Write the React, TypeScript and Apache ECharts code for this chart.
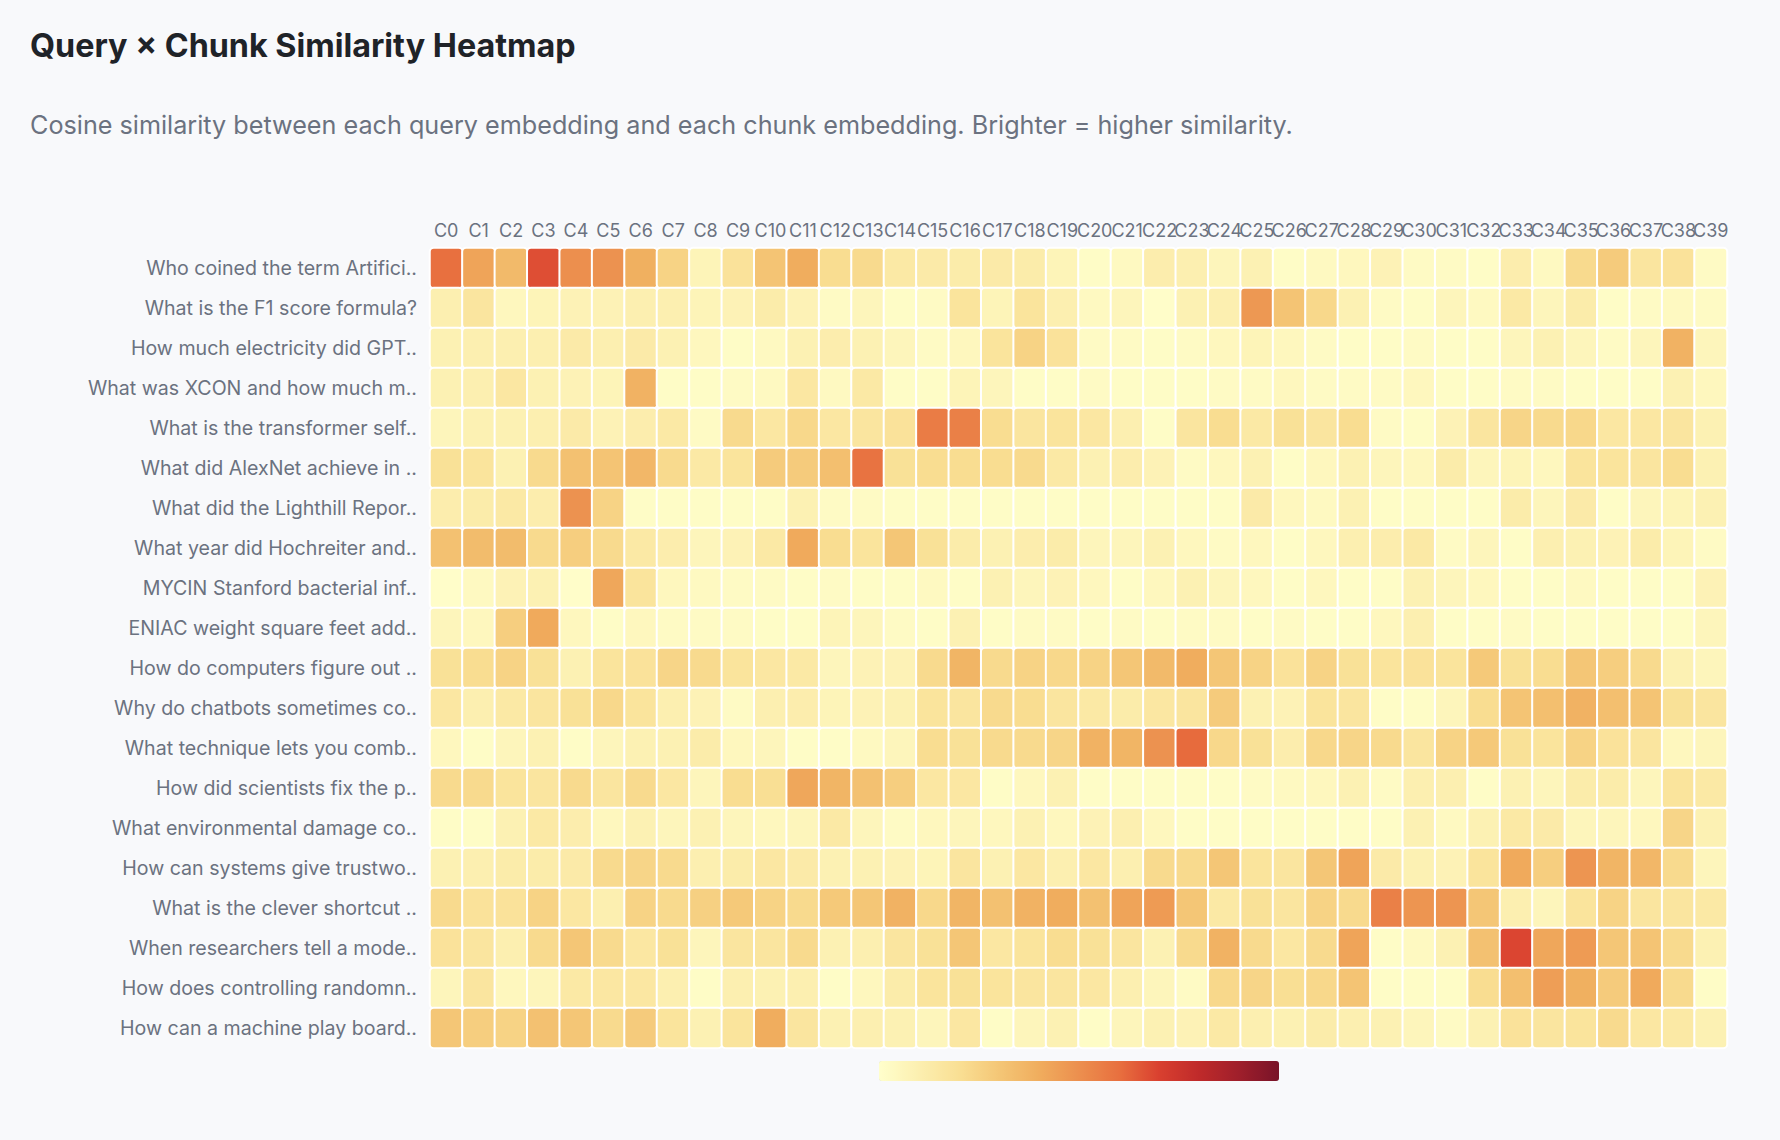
import React, { useEffect, useRef } from "react";
import * as echarts from "echarts";

const chunks = [
  "C0", "C1", "C2", "C3", "C4", "C5", "C6", "C7", "C8", "C9",
  "C10", "C11", "C12", "C13", "C14", "C15", "C16", "C17", "C18", "C19",
  "C20", "C21", "C22", "C23", "C24", "C25", "C26", "C27", "C28", "C29",
  "C30", "C31", "C32", "C33", "C34", "C35", "C36", "C37", "C38", "C39",
];

const queries = [
  "Who coined the term Artifici..",
  "What is the F1 score formula?",
  "How much electricity did GPT..",
  "What was XCON and how much m..",
  "What is the transformer self..",
  "What did AlexNet achieve in ..",
  "What did the Lighthill Repor..",
  "What year did Hochreiter and..",
  "MYCIN Stanford bacterial inf..",
  "ENIAC weight square feet add..",
  "How do computers figure out ..",
  "Why do chatbots sometimes co..",
  "What technique lets you comb..",
  "How did scientists fix the p..",
  "What environmental damage co..",
  "How can systems give trustwo..",
  "What is the clever shortcut ..",
  "When researchers tell a mode..",
  "How does controlling randomn..",
  "How can a machine play board..",
];

const q00 = [0.60,0.43,0.35,0.67,0.50,0.49,0.39,0.25,0.07,0.18,0.31,0.40,0.21,0.22,0.14,0.13,0.12,0.13,0.12,0.07,0.02,0.04,0.11,0.10,0.06,0.09,0.02,0.04,0.05,0.08,0.03,0.03,0.02,0.11,0.04,0.22,0.28,0.16,0.18,0.03];
const q01 = [0.10,0.16,0.05,0.07,0.08,0.08,0.10,0.10,0.07,0.08,0.12,0.08,0.03,0.06,0.02,0.03,0.17,0.07,0.17,0.10,0.04,0.06,0.01,0.09,0.10,0.47,0.31,0.23,0.09,0.03,0.02,0.06,0.04,0.14,0.06,0.12,0.02,0.03,0.04,0.03];
const q02 = [0.09,0.10,0.10,0.10,0.13,0.10,0.13,0.09,0.05,0.02,0.04,0.09,0.11,0.09,0.06,0.03,0.05,0.17,0.25,0.18,0.03,0.03,0.02,0.03,0.05,0.07,0.05,0.03,0.02,0.02,0.03,0.02,0.02,0.06,0.09,0.06,0.03,0.06,0.38,0.06];
const q03 = [0.09,0.10,0.15,0.09,0.08,0.07,0.38,0.02,0.02,0.03,0.04,0.15,0.04,0.14,0.02,0.02,0.07,0.06,0.02,0.02,0.03,0.02,0.02,0.02,0.03,0.03,0.05,0.03,0.03,0.03,0.05,0.02,0.02,0.03,0.03,0.02,0.02,0.02,0.09,0.05];
const q04 = [0.06,0.09,0.09,0.10,0.13,0.08,0.11,0.14,0.03,0.22,0.15,0.23,0.15,0.16,0.18,0.56,0.55,0.21,0.16,0.17,0.15,0.10,0.02,0.16,0.21,0.14,0.19,0.16,0.21,0.03,0.02,0.08,0.16,0.24,0.22,0.23,0.15,0.15,0.16,0.09];
const q05 = [0.19,0.17,0.09,0.22,0.32,0.31,0.36,0.22,0.14,0.17,0.28,0.28,0.33,0.59,0.19,0.21,0.21,0.21,0.22,0.14,0.09,0.11,0.08,0.03,0.05,0.09,0.02,0.05,0.09,0.06,0.05,0.12,0.06,0.07,0.05,0.17,0.17,0.16,0.21,0.09];
const q06 = [0.11,0.12,0.14,0.11,0.49,0.25,0.02,0.02,0.02,0.02,0.02,0.09,0.03,0.03,0.02,0.02,0.02,0.02,0.02,0.02,0.02,0.02,0.02,0.02,0.02,0.13,0.05,0.04,0.09,0.02,0.02,0.02,0.02,0.12,0.06,0.13,0.02,0.06,0.07,0.09];
const q07 = [0.32,0.34,0.34,0.22,0.27,0.22,0.14,0.11,0.06,0.08,0.14,0.41,0.21,0.17,0.30,0.19,0.12,0.09,0.11,0.12,0.06,0.06,0.09,0.05,0.03,0.05,0.02,0.05,0.10,0.11,0.14,0.03,0.06,0.02,0.10,0.09,0.08,0.12,0.07,0.03];
const q08 = [0.01,0.04,0.08,0.09,0.01,0.42,0.17,0.05,0.04,0.03,0.03,0.02,0.03,0.02,0.02,0.04,0.02,0.09,0.06,0.08,0.05,0.02,0.05,0.09,0.06,0.05,0.02,0.05,0.02,0.02,0.09,0.06,0.05,0.02,0.02,0.04,0.02,0.02,0.02,0.08];
const q09 = [0.06,0.05,0.27,0.41,0.05,0.02,0.05,0.03,0.03,0.03,0.02,0.02,0.07,0.06,0.03,0.02,0.09,0.02,0.03,0.03,0.02,0.03,0.02,0.03,0.03,0.02,0.03,0.02,0.02,0.05,0.10,0.02,0.02,0.03,0.02,0.02,0.02,0.02,0.02,0.06];
const q10 = [0.19,0.21,0.25,0.19,0.09,0.17,0.18,0.24,0.22,0.17,0.15,0.14,0.06,0.08,0.08,0.22,0.37,0.22,0.25,0.23,0.25,0.30,0.35,0.40,0.30,0.25,0.18,0.25,0.19,0.17,0.18,0.17,0.29,0.19,0.21,0.30,0.27,0.22,0.09,0.06];
const q11 = [0.15,0.10,0.14,0.16,0.19,0.23,0.17,0.10,0.08,0.03,0.10,0.11,0.07,0.08,0.09,0.17,0.16,0.22,0.21,0.16,0.14,0.12,0.15,0.16,0.28,0.09,0.08,0.17,0.16,0.02,0.02,0.06,0.21,0.31,0.33,0.38,0.33,0.31,0.19,0.16];
const q12 = [0.05,0.02,0.06,0.09,0.02,0.06,0.09,0.09,0.12,0.05,0.06,0.02,0.02,0.04,0.06,0.21,0.19,0.22,0.22,0.24,0.38,0.37,0.49,0.61,0.23,0.19,0.11,0.23,0.24,0.22,0.16,0.25,0.29,0.19,0.17,0.25,0.18,0.16,0.05,0.06];
const q13 = [0.22,0.22,0.17,0.16,0.22,0.16,0.22,0.15,0.06,0.21,0.20,0.42,0.37,0.32,0.27,0.15,0.15,0.02,0.05,0.09,0.02,0.02,0.02,0.02,0.02,0.03,0.04,0.05,0.09,0.03,0.10,0.10,0.02,0.09,0.06,0.12,0.12,0.06,0.17,0.14];
const q14 = [0.02,0.02,0.09,0.14,0.11,0.05,0.09,0.06,0.09,0.06,0.05,0.06,0.14,0.06,0.03,0.05,0.06,0.05,0.09,0.05,0.08,0.10,0.05,0.02,0.02,0.02,0.02,0.02,0.02,0.02,0.09,0.04,0.09,0.14,0.13,0.06,0.06,0.05,0.24,0.09];
const q15 = [0.09,0.10,0.12,0.12,0.13,0.22,0.24,0.22,0.10,0.12,0.15,0.13,0.09,0.09,0.08,0.07,0.16,0.09,0.15,0.10,0.15,0.10,0.22,0.22,0.30,0.17,0.16,0.30,0.43,0.13,0.09,0.08,0.17,0.41,0.27,0.48,0.37,0.36,0.22,0.06];
const q16 = [0.22,0.18,0.18,0.25,0.15,0.10,0.25,0.22,0.26,0.29,0.25,0.22,0.29,0.30,0.38,0.23,0.37,0.32,0.38,0.40,0.32,0.43,0.46,0.30,0.14,0.19,0.16,0.25,0.22,0.55,0.48,0.48,0.30,0.10,0.06,0.17,0.25,0.16,0.16,0.14];
const q17 = [0.18,0.16,0.10,0.22,0.30,0.22,0.15,0.19,0.06,0.16,0.16,0.22,0.09,0.10,0.16,0.19,0.30,0.15,0.17,0.21,0.19,0.16,0.09,0.22,0.38,0.22,0.15,0.22,0.43,0.02,0.04,0.09,0.32,0.69,0.42,0.46,0.30,0.31,0.22,0.09];
const q18 = [0.06,0.16,0.05,0.06,0.14,0.15,0.15,0.10,0.02,0.10,0.09,0.10,0.02,0.05,0.12,0.17,0.19,0.17,0.16,0.16,0.15,0.10,0.06,0.03,0.23,0.24,0.20,0.23,0.31,0.02,0.02,0.02,0.21,0.33,0.45,0.39,0.28,0.41,0.22,0.02];
const q19 = [0.30,0.27,0.25,0.32,0.30,0.22,0.28,0.17,0.09,0.17,0.40,0.16,0.09,0.10,0.09,0.06,0.15,0.02,0.06,0.09,0.02,0.06,0.09,0.08,0.14,0.10,0.09,0.12,0.10,0.09,0.06,0.03,0.09,0.18,0.16,0.17,0.22,0.15,0.14,0.09];

const similarity = [q00, q01, q02, q03, q04, q05, q06, q07, q08, q09, q10, q11, q12, q13, q14, q15, q16, q17, q18, q19];

const scaleMin = 0;
const scaleMax = 1;

const rampColors = [
  "#ffffcc", "#fcefb0", "#f9df94", "#f4c676", "#f0ad5e", "#ec8f4e",
  "#e8703f", "#d9402f", "#bf2a2a", "#9f1f2b", "#781328",
];

const titleText = "Query × Chunk Similarity Heatmap";
const subtitleText =
  "Cosine similarity between each query embedding and each chunk embedding. Brighter = higher similarity.";

const FONT = "Inter, 'Noto Sans', 'DejaVu Sans', sans-serif";

export default function App() {
  const ref = useRef<HTMLDivElement>(null);

  useEffect(() => {
    document.body.style.margin = "0";
    document.body.style.background = "#f8f9fb";
    const chart = echarts.init(ref.current as HTMLDivElement, null, { renderer: "svg" });

    const data: number[][] = [];
    similarity.forEach((row, y) => {
      row.forEach((v, x) => {
        data.push([x, y, v]);
      });
    });

    chart.setOption({
      animation: false,
      backgroundColor: "#f8f9fb",
      textStyle: { fontFamily: FONT },
      title: [
        {
          text: titleText,
          left: 30,
          top: 29,
          padding: 0,
          textStyle: { fontSize: 32.3, fontWeight: 700, color: "#1f2328", fontFamily: FONT },
        },
        {
          text: subtitleText,
          left: 30,
          top: 112,
          padding: 0,
          textStyle: { fontSize: 25.2, fontWeight: 400, color: "#6b7280", fontFamily: FONT },
        },
      ],
      grid: {
        left: 430,
        top: 248,
        width: 1297,
        height: 800,
        containLabel: false,
        outerBoundsMode: "none",
      },
      xAxis: {
        type: "category",
        data: chunks,
        position: "top",
        axisLine: { show: false },
        axisTick: { show: false },
        splitLine: { show: false },
        splitArea: { show: false },
        axisLabel: { interval: 0, fontSize: 18, color: "#6b7280", margin: 9, fontFamily: FONT },
      },
      yAxis: {
        type: "category",
        data: queries,
        inverse: true,
        axisLine: { show: false },
        axisTick: { show: false },
        splitLine: { show: false },
        splitArea: { show: false },
        axisLabel: { interval: 0, fontSize: 19.6, color: "#6b7280", margin: 13, fontFamily: FONT },
      },
      visualMap: {
        type: "continuous",
        min: scaleMin,
        max: scaleMax,
        orient: "horizontal",
        left: 879,
        top: 1061,
        itemWidth: 20,
        itemHeight: 400,
        padding: 0,
        calculable: false,
        hoverLink: false,
        inRange: { color: rampColors },
      },
      series: [
        {
          type: "heatmap",
          data,
          itemStyle: { borderColor: "#ffffff", borderWidth: 2, borderRadius: 4 },
          emphasis: { disabled: true },
        },
      ],
    });

    return () => {
      chart.dispose();
    };
  }, []);

  return (
    <div
      ref={ref}
      style={{ position: "absolute", left: 0, top: 0, width: 1780, height: 1140 }}
    />
  );
}
